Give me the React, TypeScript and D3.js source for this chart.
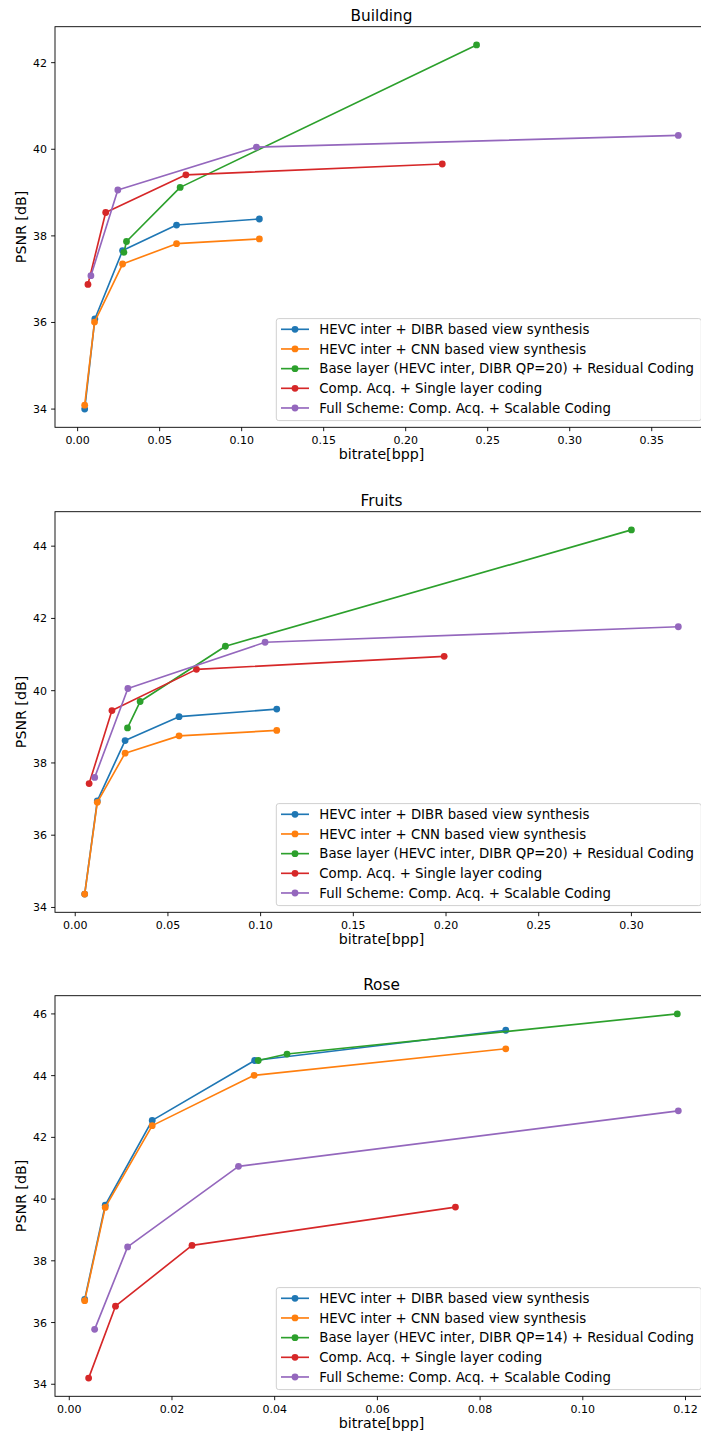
import React from 'react';
import * as d3 from 'd3';

// ---------- data ----------
const titles = ['Building', 'Fruits', 'Rose'];

const labelsBuilding = [
  'HEVC inter + DIBR based view synthesis',
  'HEVC inter + CNN based view synthesis',
  'Base layer (HEVC inter, DIBR QP=20) + Residual Coding',
  'Comp. Acq. + Single layer coding',
  'Full Scheme: Comp. Acq. + Scalable Coding',
];
const labelsFruits = labelsBuilding;
const labelsRose = [
  'HEVC inter + DIBR based view synthesis',
  'HEVC inter + CNN based view synthesis',
  'Base layer (HEVC inter, DIBR QP=14) + Residual Coding',
  'Comp. Acq. + Single layer coding',
  'Full Scheme: Comp. Acq. + Scalable Coding',
];

// [bitrate bpp, PSNR dB]
const buildingDibr: [number, number][] = [[0.0043, 34.0], [0.0105, 36.08], [0.0274, 37.66], [0.0603, 38.25], [0.1108, 38.39]];
const buildingCnn: [number, number][] = [[0.0043, 34.09], [0.0103, 36.01], [0.0274, 37.35], [0.0603, 37.82], [0.1108, 37.93]];
const buildingBase: [number, number][] = [[0.0282, 37.62], [0.0298, 37.87], [0.0625, 39.12], [0.2432, 42.41]];
const buildingSingle: [number, number][] = [[0.0063, 36.88], [0.0171, 38.54], [0.066, 39.41], [0.2223, 39.66]];
const buildingFull: [number, number][] = [[0.0081, 37.08], [0.0245, 39.06], [0.109, 40.05], [0.3662, 40.32]];

const fruitsDibr: [number, number][] = [[0.0051, 34.37], [0.0119, 36.95], [0.0269, 38.62], [0.056, 39.28], [0.1087, 39.49]];
const fruitsCnn: [number, number][] = [[0.0051, 34.37], [0.0119, 36.91], [0.0269, 38.27], [0.056, 38.75], [0.1087, 38.9]];
const fruitsBase: [number, number][] = [[0.0282, 38.97], [0.035, 39.7], [0.081, 41.23], [0.3, 44.45]];
const fruitsSingle: [number, number][] = [[0.0075, 37.43], [0.0198, 39.45], [0.0654, 40.59], [0.199, 40.95]];
const fruitsFull: [number, number][] = [[0.0105, 37.6], [0.0284, 40.06], [0.1024, 41.34], [0.3253, 41.77]];

const roseDibr: [number, number][] = [[0.003, 36.75], [0.007, 39.8], [0.01615, 42.55], [0.0361, 44.49], [0.085, 45.47]];
const roseCnn: [number, number][] = [[0.003, 36.71], [0.007, 39.73], [0.01615, 42.38], [0.036, 44.01], [0.085, 44.87]];
const roseBase: [number, number][] = [[0.0368, 44.49], [0.0424, 44.7], [0.1184, 46.0]];
const roseSingle: [number, number][] = [[0.00377, 34.2], [0.009, 36.53], [0.0239, 38.5], [0.0752, 39.74]];
const roseFull: [number, number][] = [[0.00494, 35.78], [0.01136, 38.45], [0.03295, 41.06], [0.1186, 42.86]];

const xTicksBuilding = [0, 0.05, 0.1, 0.15, 0.2, 0.25, 0.3, 0.35];
const yTicksBuilding = [34, 36, 38, 40, 42];
const xTicksFruits = [0, 0.05, 0.1, 0.15, 0.2, 0.25, 0.3];
const yTicksFruits = [34, 36, 38, 40, 42, 44];
const xTicksRose = [0, 0.02, 0.04, 0.06, 0.08, 0.1, 0.12];
const yTicksRose = [34, 36, 38, 40, 42, 44, 46];

const colors = ['#1f77b4', '#ff7f0e', '#2ca02c', '#d62728', '#9467bd'];
const xLabel = 'bitrate[bpp]';
const yLabel = 'PSNR [dB]';

// ---------- layout ----------
const W = 701;
const H = 1437;
const LEFT = 55;
const RIGHT = 708;
const PH = 400.6;
const FONT = 'DejaVu Sans, Verdana, sans-serif';

type PanelProps = {
  title: string;
  series: [number, number][][];
  labels: string[];
  xTicks: number[];
  yTicks: number[];
  top: number;
};

function pad(ext: [number, number]): [number, number] {
  const r = ext[1] - ext[0];
  return [ext[0] - 0.05 * r, ext[1] + 0.05 * r];
}

function Panel({ title, series, labels, xTicks, yTicks, top }: PanelProps) {
  const all = series.flat();
  const xd = pad(d3.extent(all, (d) => d[0]) as [number, number]);
  const yd = pad(d3.extent(all, (d) => d[1]) as [number, number]);
  const bottom = top + PH;
  const x = d3.scaleLinear().domain(xd).range([LEFT, RIGHT]);
  const y = d3.scaleLinear().domain(yd).range([bottom, top]);
  const line = d3
    .line<[number, number]>()
    .x((d) => x(d[0]))
    .y((d) => y(d[1]));
  const xf = d3.format('.2f');

  const legBottom = bottom - 6.7;
  const legTop = legBottom - 102;
  const legLeft = 276.3;
  const legRight = 701.3;

  return (
    <g>
      <text x={(LEFT + RIGHT) / 2} y={top - 6} textAnchor="middle" fontSize={15.3} fontFamily={FONT} fill="#000">
        {title}
      </text>
      {/* series */}
      {series.map((s, i) => (
        <g key={i}>
          <path d={line(s) || ''} fill="none" stroke={colors[i]} strokeWidth={1.65} strokeLinejoin="round" />
          {s.map((d, j) => (
            <circle key={j} cx={x(d[0])} cy={y(d[1])} r={3.4} fill={colors[i]} />
          ))}
        </g>
      ))}
      {/* spines */}
      <rect x={LEFT} y={top} width={RIGHT - LEFT} height={PH} fill="none" stroke="#000" strokeWidth={0.9} />
      {/* x ticks */}
      {xTicks.map((t) => (
        <g key={'x' + t}>
          <line x1={x(t)} x2={x(t)} y1={bottom} y2={bottom + 3.9} stroke="#000" strokeWidth={0.9} />
          <text x={x(t)} y={bottom + 16.3} textAnchor="middle" fontSize={11} fontFamily={FONT} fill="#000">
            {xf(t)}
          </text>
        </g>
      ))}
      {/* y ticks */}
      {yTicks.map((t) => (
        <g key={'y' + t}>
          <line x1={LEFT - 3.9} x2={LEFT} y1={y(t)} y2={y(t)} stroke="#000" strokeWidth={0.9} />
          <text x={LEFT - 8} y={y(t) + 4} textAnchor="end" fontSize={11} fontFamily={FONT} fill="#000">
            {String(t)}
          </text>
        </g>
      ))}
      {/* axis labels */}
      <text x={(LEFT + RIGHT) / 2} y={bottom + 32} textAnchor="middle" fontSize={14.2} fontFamily={FONT} fill="#000">
        {xLabel}
      </text>
      <text
        transform={`translate(26,${(top + bottom) / 2}) rotate(-90)`}
        textAnchor="middle"
        fontSize={14.2}
        fontFamily={FONT}
        fill="#000"
      >
        {yLabel}
      </text>
      {/* legend */}
      <rect
        x={legLeft}
        y={legTop}
        width={legRight - legLeft}
        height={legBottom - legTop}
        rx={2.5}
        fill="#fff"
        fillOpacity={0.8}
        stroke="#d0d0d0"
        strokeWidth={1}
      />
      {labels.map((lab, i) => {
        const cy = legTop + 10.7 + i * 19.67;
        return (
          <g key={'l' + i}>
            <line x1={281} x2={309} y1={cy} y2={cy} stroke={colors[i]} strokeWidth={1.65} />
            <circle cx={295} cy={cy} r={3.4} fill={colors[i]} />
            <text x={319.3} y={cy + 4.8} fontSize={13.3} fontFamily={FONT} fill="#000">
              {lab}
            </text>
          </g>
        );
      })}
    </g>
  );
}

export default function App() {
  const tops = [26.7, 511.7, 995.7];
  return (
    <svg
      width={W}
      height={H}
      viewBox={`0 0 ${W} ${H}`}
      style={{ position: 'absolute', left: 0, top: 0, background: '#fff', display: 'block' }}
    >
      <rect x={0} y={0} width={W} height={H} fill="#fff" />
      <Panel
        title={titles[0]}
        series={[buildingDibr, buildingCnn, buildingBase, buildingSingle, buildingFull]}
        labels={labelsBuilding}
        xTicks={xTicksBuilding}
        yTicks={yTicksBuilding}
        top={tops[0]}
      />
      <Panel
        title={titles[1]}
        series={[fruitsDibr, fruitsCnn, fruitsBase, fruitsSingle, fruitsFull]}
        labels={labelsFruits}
        xTicks={xTicksFruits}
        yTicks={yTicksFruits}
        top={tops[1]}
      />
      <Panel
        title={titles[2]}
        series={[roseDibr, roseCnn, roseBase, roseSingle, roseFull]}
        labels={labelsRose}
        xTicks={xTicksRose}
        yTicks={yTicksRose}
        top={tops[2]}
      />
    </svg>
  );
}
